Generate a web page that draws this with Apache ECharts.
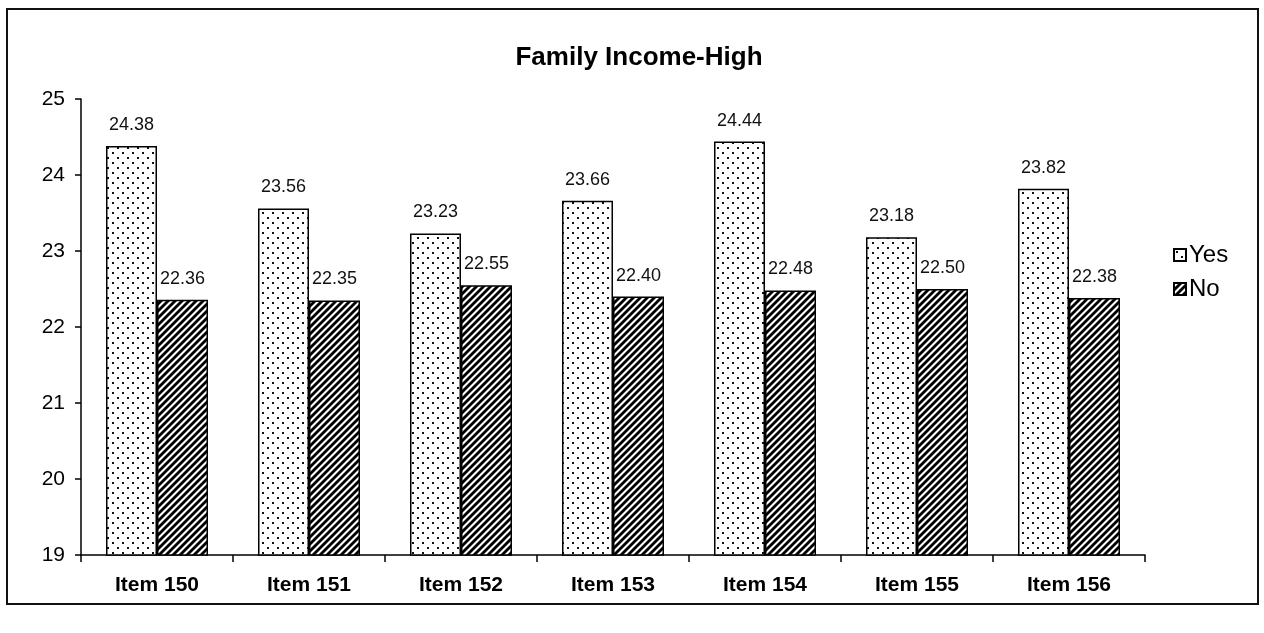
<!DOCTYPE html>
<html>
<head>
<meta charset="utf-8">
<script src="https://cdn.jsdelivr.net/npm/echarts@6/dist/echarts.min.js"></script>
<style>
  html, body { margin: 0; padding: 0; background: #fff; }
  #frame { position: absolute; left: 6px; top: 8px; width: 1253px; height: 597px; border: 2px solid #111; box-sizing: border-box; }
  #chart { position: absolute; left: 0; top: 0; width: 1264px; height: 633px; }
</style>
</head>
<body>
<div id="frame"></div>
<div id="chart"></div>
<script>
// data
const categories = ['Item 150', 'Item 151', 'Item 152', 'Item 153', 'Item 154', 'Item 155', 'Item 156']
const yesValues = [24.38, 23.56, 23.23, 23.66, 24.44, 23.18, 23.82]
const noValues = [22.36, 22.35, 22.55, 22.40, 22.48, 22.50, 22.38]
const yTicks = [19, 20, 21, 22, 23, 24, 25]

// 点状纹理 (Yes)
const makeDots = () => {
  const c = document.createElement('canvas')
  c.width = 10; c.height = 10
  const g = c.getContext('2d')
  g.fillStyle = '#fff'; g.fillRect(0, 0, 10, 10)
  g.fillStyle = '#111'
  g.fillRect(2, 2, 2, 2)
  g.fillRect(7, 7, 2, 2)
  return c
}
// 斜线纹理 (No)
const makeHatch = () => {
  const s = 7
  const c = document.createElement('canvas')
  c.width = s; c.height = s
  const g = c.getContext('2d')
  g.fillStyle = '#fff'; g.fillRect(0, 0, s, s)
  g.strokeStyle = '#000'; g.lineWidth = 2.8
  for (let k = -1; k <= 1; k++) {
    g.beginPath()
    g.moveTo(k * s - 1, s + 1)
    g.lineTo(k * s + s + 1, -1)
    g.stroke()
  }
  return c
}

const dotFill = { image: makeDots(), repeat: 'repeat' }
const hatchFill = { image: makeHatch(), repeat: 'repeat' }

const chart = echarts.init(document.getElementById('chart'))
const font = 'Liberation Sans, Arial, sans-serif'

const labelStyle = {
  show: true,
  position: 'top',
  distance: 12,
  color: '#111',
  fontSize: 18,
  fontFamily: font,
  formatter: (p) => p.value.toFixed(2)
}

chart.setOption({
  backgroundColor: 'transparent',
  animation: false,
  title: {
    text: 'Family Income-High',
    left: 634,
    top: 40,
    textAlign: 'center',
    textStyle: { color: '#000', fontSize: 26, fontWeight: 'bold', fontFamily: font }
  },
  legend: {
    orient: 'vertical',
    left: 1168,
    top: 238,
    itemWidth: 12,
    itemHeight: 12,
    itemGap: 10,
    icon: 'rect',
    textStyle: { color: '#000', fontSize: 24, fontFamily: font, padding: [0, 0, 0, -2] },
    data: ['Yes', 'No']
  },
  grid: { left: 81, right: 119, top: 99, bottom: 78, containLabel: false },
  xAxis: {
    type: 'category',
    data: categories,
    axisLine: { lineStyle: { color: '#000', width: 1.5 } },
    axisTick: { show: true, alignWithLabel: false, length: 7, lineStyle: { color: '#000', width: 1.5 } },
    axisLabel: { color: '#000', fontSize: 21, fontWeight: 'bold', fontFamily: font, margin: 20 },
    splitLine: { show: false }
  },
  yAxis: {
    type: 'value',
    min: yTicks[0],
    max: yTicks[yTicks.length - 1],
    interval: 1,
    axisLine: { show: true, lineStyle: { color: '#000', width: 1.5 } },
    axisTick: { show: true, length: 6, lineStyle: { color: '#000', width: 1.5 } },
    axisLabel: { color: '#000', fontSize: 21, fontFamily: font, margin: 16 },
    splitLine: { show: false }
  },
  series: [
    {
      name: 'Yes',
      type: 'bar',
      barWidth: 51,
      barGap: '0%',
      itemStyle: { color: dotFill, borderColor: '#000', borderWidth: 1.5 },
      label: labelStyle,
      data: yesValues
    },
    {
      name: 'No',
      type: 'bar',
      barWidth: 51,
      barGap: '0%',
      itemStyle: { color: hatchFill, borderColor: '#000', borderWidth: 1.5 },
      label: labelStyle,
      data: noValues
    }
  ]
})
</script>
</body>
</html>
